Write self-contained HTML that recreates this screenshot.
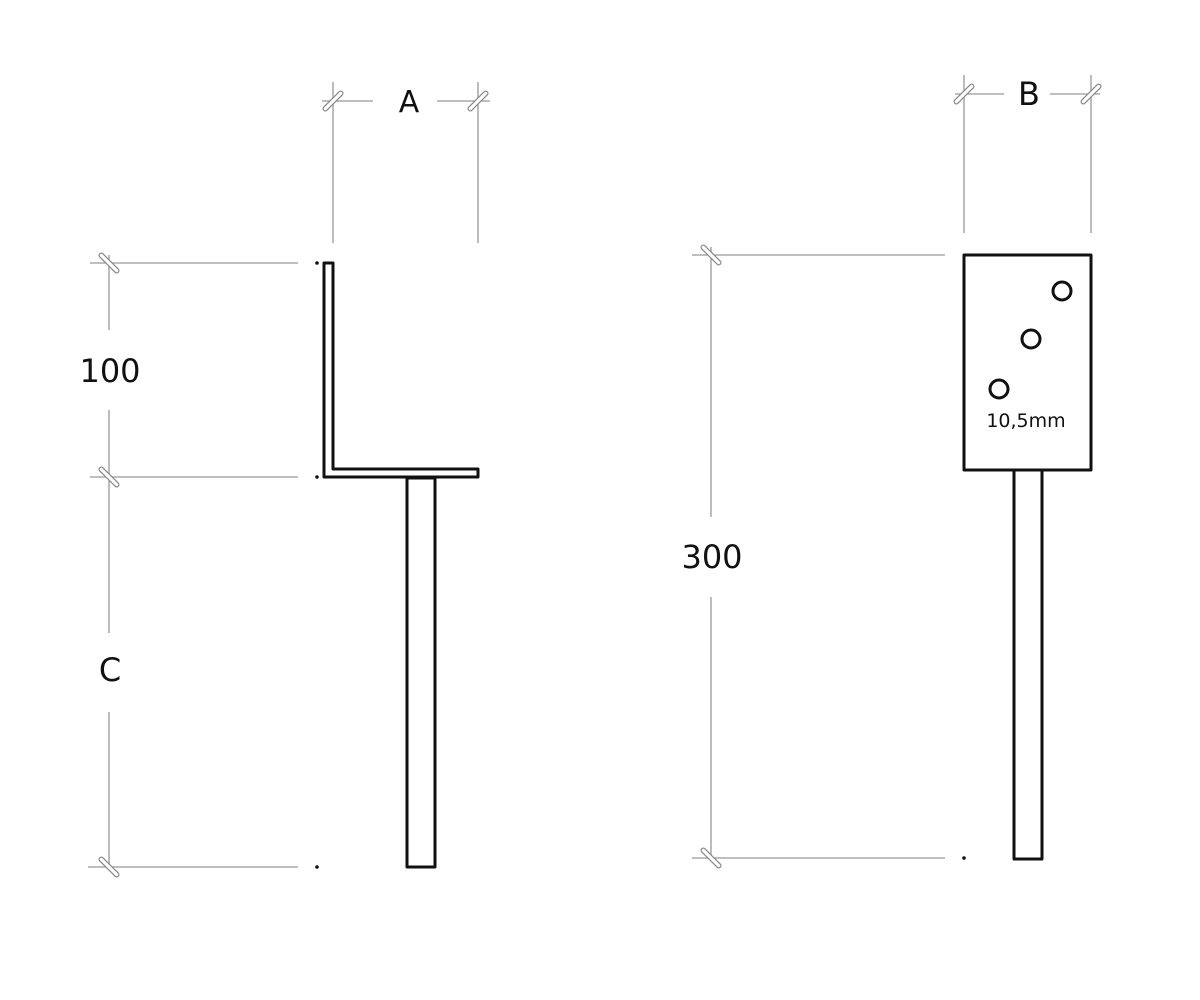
<!DOCTYPE html>
<html><head><meta charset="utf-8"><style>
html,body{margin:0;padding:0;background:#fff;}
svg{display:block;}
text{font-family:"DejaVu Sans","Liberation Sans",sans-serif;fill:#111;}
</style></head><body>
<svg width="1200" height="1000" viewBox="0 0 1200 1000" xmlns="http://www.w3.org/2000/svg">
<defs>
<g id="tf"><rect x="-2.2" y="-13" width="4.4" height="26" rx="2" fill="#fff" stroke="#888" stroke-width="1.2"/></g>
</defs>
<g stroke="#999" stroke-width="1.3" fill="none">
<!-- A dim -->
<line x1="333" y1="82" x2="333" y2="243"/>
<line x1="478" y1="82" x2="478" y2="243"/>
<line x1="322" y1="101" x2="373" y2="101"/>
<line x1="437" y1="101" x2="490" y2="101"/>
<!-- left vertical dims -->
<line x1="90" y1="263" x2="298" y2="263"/>
<line x1="90" y1="477" x2="298" y2="477"/>
<line x1="88" y1="867" x2="298" y2="867"/>
<line x1="109" y1="255" x2="109" y2="330"/>
<line x1="109" y1="410" x2="109" y2="633"/>
<line x1="109" y1="712" x2="109" y2="867"/>
<!-- B dim -->
<line x1="964" y1="75" x2="964" y2="233"/>
<line x1="1091" y1="75" x2="1091" y2="233"/>
<line x1="955" y1="94" x2="1004" y2="94"/>
<line x1="1050" y1="94" x2="1100" y2="94"/>
<!-- 300 dim -->
<line x1="692" y1="255" x2="945" y2="255"/>
<line x1="692" y1="858" x2="945" y2="858"/>
<line x1="711" y1="247" x2="711" y2="517"/>
<line x1="711" y1="597" x2="711" y2="858"/>
</g>
<!-- ticks -->
<use href="#tf" transform="translate(333,101) rotate(45)"/>
<use href="#tf" transform="translate(478,101) rotate(45)"/>
<use href="#tf" transform="translate(964,94) rotate(45)"/>
<use href="#tf" transform="translate(1091,94) rotate(45)"/>
<use href="#tf" transform="translate(109,263) rotate(-45)"/>
<use href="#tf" transform="translate(109,477) rotate(-45)"/>
<use href="#tf" transform="translate(109,867) rotate(-45)"/>
<use href="#tf" transform="translate(711,255) rotate(-45)"/>
<use href="#tf" transform="translate(711,858) rotate(-45)"/>
<!-- dots -->
<g fill="#111">
<circle cx="317" cy="263" r="1.8"/><circle cx="317" cy="477" r="1.8"/><circle cx="317" cy="867" r="1.8"/><circle cx="964" cy="858" r="1.8"/>
</g>
<!-- L bracket -->
<g stroke="#111" stroke-width="3" fill="none" stroke-linejoin="round">
<path d="M324,263 L333,263 L333,469 L478,469 L478,477 L324,477 Z"/>
<rect x="407" y="478" width="28" height="389"/>
<rect x="964" y="255" width="127" height="215"/>
<rect x="1014" y="470" width="28" height="389"/>
<circle cx="1062" cy="291" r="9"/>
<circle cx="1031" cy="339" r="9"/>
<circle cx="999" cy="389" r="9"/>
</g>
<text x="409" y="112" font-size="30" text-anchor="middle">A</text>
<text x="1029" y="105" font-size="32" text-anchor="middle">B</text>
<text x="110" y="382" font-size="32" text-anchor="middle">100</text>
<text x="110" y="681" font-size="32" text-anchor="middle">C</text>
<text x="712" y="568" font-size="32" text-anchor="middle">300</text>
<text x="1026" y="427" font-size="19" text-anchor="middle">10,5mm</text>
</svg>
</body></html>
